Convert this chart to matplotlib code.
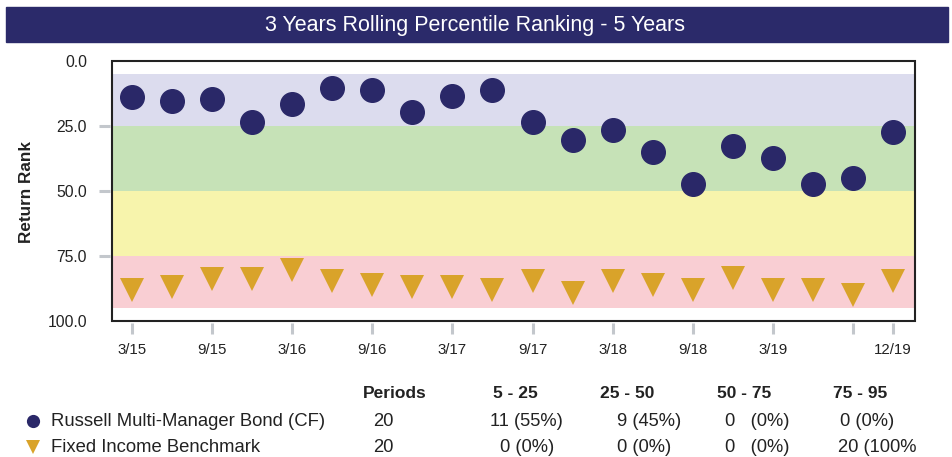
import matplotlib
matplotlib.use("Agg")
import matplotlib.pyplot as plt
from matplotlib.patches import Rectangle

plt.rcParams['font.family'] = ['Liberation Sans', 'DejaVu Sans']

# ---- data -------------------------------------------------------------
quarters = ["3/15", "6/15", "9/15", "12/15", "3/16", "6/16", "9/16", "12/16",
            "3/17", "6/17", "9/17", "12/17", "3/18", "6/18", "9/18", "12/18",
            "3/19", "6/19", "9/19", "12/19"]
fund_rank = [13.7, 15.3, 14.6, 23.6, 16.7, 10.5, 11.3, 19.7, 13.6, 11.3,
             23.5, 30.5, 26.7, 35.0, 47.2, 32.7, 37.2, 47.2, 44.9, 27.3]
bench_rank = [87.9, 87.1, 84.0, 84.0, 80.2, 84.8, 86.3, 87.1, 87.1, 87.9,
              84.8, 89.4, 84.8, 86.3, 87.9, 83.3, 87.9, 87.9, 90.1, 84.8]
tick_idx = [0, 2, 4, 6, 8, 10, 12, 14, 16, 18, 19]
tick_labels = ["3/15", "9/15", "3/16", "9/16", "3/17", "9/17", "3/18",
               "9/18", "3/19", "", "12/19"]
band_edges = [5, 25, 50, 75, 95]
band_colors = ["#dcdcee", "#c6e2b7", "#f7f4ac", "#f9ced3"]

series_names = ["Russell Multi-Manager Bond (CF)", "Fixed Income Benchmark"]
table_header = ["Periods", "5 - 25", "25 - 50", "50 - 75", "75 - 95"]
table_rows = [["20", "11 (55%)", "9 (45%)", "0   (0%)", "0 (0%)"],
              ["20", "0 (0%)", "0 (0%)", "0   (0%)", "20 (100%"]]

navy = "#2a2868"
gold = "#d9a32a"

W, H = 952, 457
fig = plt.figure(figsize=(W / 100, H / 100), dpi=100)


def fx(px):
    return px / W


def fy(py):
    return 1 - py / H


# ---- title bar --------------------------------------------------------
fig.patches.append(Rectangle((fx(6), fy(42)), fx(948) - fx(6), fy(7) - fy(42),
                             transform=fig.transFigure, color="#2b2a6a",
                             zorder=0))
fig.text(fx(475), fy(25), "3 Years Rolling Percentile Ranking - 5 Years",
         color="white", fontsize=15.5, ha="center", va="center")

# ---- main axes --------------------------------------------------------
ax = fig.add_axes([fx(112), fy(321), fx(915) - fx(112), fy(61) - fy(321)])
ax.set_facecolor("white")
for lo, hi, c in zip(band_edges[:-1], band_edges[1:], band_colors):
    ax.axhspan(lo, hi, color=c, lw=0, zorder=0)

x = list(range(len(quarters)))
ax.plot(x, fund_rank, ls="none", marker="o", ms=17, color=navy, zorder=3)
ax.plot(x, bench_rank, ls="none", marker="v", ms=17.5, color=gold,
        markeredgewidth=0, zorder=3)

ax.set_xlim(-0.5, 19.55)
ax.set_ylim(100, 0)

for s in ax.spines.values():
    s.set_visible(False)
ax.spines["left"].set_position(("outward", 1.5))
ax.spines["bottom"].set_position(("outward", 1.5))
ax.add_patch(Rectangle((0, 0), 1, 1, transform=ax.transAxes, fill=False,
                       edgecolor="#222222", lw=1.5, zorder=5, clip_on=False))

ax.set_yticks([0, 25, 50, 75, 100])
ax.set_yticklabels(["0.0", "25.0", "50.0", "75.0", "100.0"])
ax.set_xticks(tick_idx)
ax.set_xticklabels(tick_labels)
ax.tick_params(axis="both", direction="out", length=8, width=2.2,
               color="#c3c7cc", labelcolor="#222222")
ax.tick_params(axis="y", labelsize=11.3, pad=8.5)
ax.tick_params(axis="x", labelsize=10.8, pad=6)
yt = ax.yaxis.get_major_ticks()
yt[0].tick1line.set_visible(False)
yt[-1].tick1line.set_visible(False)

fig.text(fx(27), fy(192), "Return Rank", rotation=90, fontsize=12.3,
         fontweight="bold", ha="center", va="center", color="#222222")

# ---- summary table ----------------------------------------------------
header_x = [363, 493, 600, 717, 833]
for hx, txt in zip(header_x, table_header):
    fig.text(fx(hx), fy(393), txt, fontsize=12.5, fontweight="bold",
             ha="left", va="center", color="#222222")

row_y = [421, 447]
cell_x = [[373, 490, 617, 725, 840],
          [373, 500, 617, 725, 838]]
markers = [("o", navy, 9.5), ("v", gold, 10.5)]
for ry, name, (m, c, ms), row, xs in zip(row_y, series_names, markers,
                                          table_rows, cell_x):
    fig.add_artist(plt.Line2D([fx(33)], [fy(ry)], marker=m, color=c, ms=ms,
                              markeredgewidth=0, transform=fig.transFigure))
    fig.text(fx(51), fy(ry), name, fontsize=13.3, ha="left", va="center",
             color="#222222")
    for cx, txt in zip(xs, row):
        fig.text(fx(cx), fy(ry), txt, fontsize=13.2, ha="left", va="center",
                 color="#222222")

fig.savefig("out.png", dpi=100)
